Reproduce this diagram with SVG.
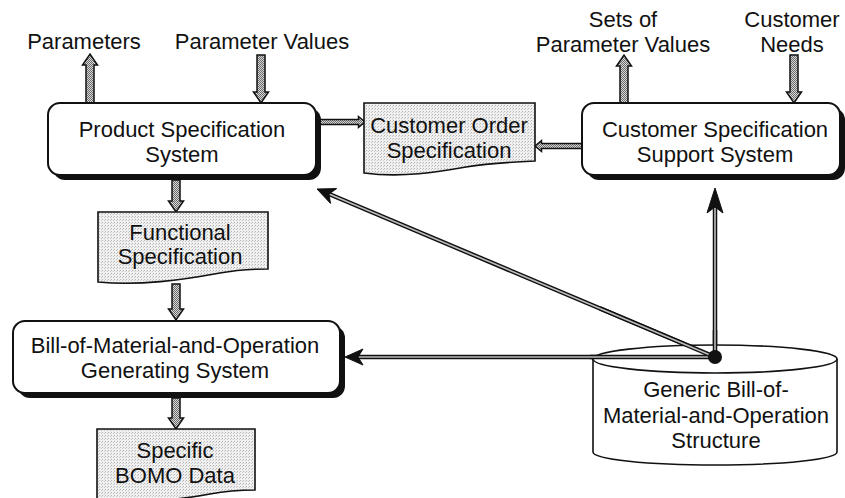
<svg xmlns="http://www.w3.org/2000/svg" width="845" height="498" viewBox="0 0 845 498">
  <defs>
    <!-- screen tone used inside the wide flow arrows -->
    <pattern id="tone" width="2" height="2" patternUnits="userSpaceOnUse">
      <rect width="2" height="2" fill="#d8d8d8"/>
      <rect width="1" height="1" fill="#6a6a6a"/>
      <rect x="1" y="1" width="1" height="1" fill="#6a6a6a"/>
    </pattern>
    <!-- light stipple for document shapes -->
    <pattern id="paper" width="3" height="3" patternUnits="userSpaceOnUse">
      <rect width="3" height="3" fill="#f0f0f0"/>
      <rect width="1" height="1" fill="#b4b4b4"/>
      <rect x="2" y="1" width="1" height="1" fill="#c8c8c8"/>
    </pattern>
  </defs>
  <style>
    text { font-family: "Liberation Sans", Arial, Helvetica, sans-serif; font-size: 22px; fill: #111; text-anchor: middle; }
    .box { fill: #fff; stroke: #111; stroke-width: 2; }
    .shadow { fill: #111; }
    .doc { fill: url(#paper); stroke: #111; stroke-width: 1.6; }
    .flow { fill: url(#tone); stroke: #111; stroke-width: 1.5; stroke-linejoin: miter; }
    .rail { fill: none; stroke: #111; stroke-width: 4.5; }
    .rail-in { fill: none; stroke: #bdbdbd; stroke-width: 1.6; }
    .head { fill: #111; stroke: #111; stroke-width: 1; stroke-linejoin: miter; }
    .db { fill: #fff; stroke: #111; stroke-width: 1.6; }
  </style>

  <!-- Connectors -->
  <g id="connectors">
    <!-- wide toned arrows -->
    <path class="flow" d="M86,103 V65 H82.5 L90,54 L97.5,65 H94 V103 Z"/>
    <path class="flow" d="M257,55 V92 H253.5 L261,103 L268.5,92 H265 V55 Z"/>
    <path class="flow" d="M620,103 V66 H616.5 L624,55 L631.5,66 H628 V103 Z"/>
    <path class="flow" d="M790,55 V92 H786.5 L794,103 L801.5,92 H798 V55 Z"/>
    <path class="flow" d="M172,180 V201 H168.5 L176,212 L183.5,201 H180 V180 Z"/>
    <path class="flow" d="M172,284 V309 H168.5 L176,320 L183.5,309 H180 V284 Z"/>
    <path class="flow" d="M172,398 V418 H168.5 L176,429 L183.5,418 H180 V398 Z"/>
    <!-- narrow toned arrows between the upper row -->
    <path class="flow" d="M320,119.5 H358.5 V116.5 L365,122 L358.5,127.5 V124.5 H320 Z"/>
    <path class="flow" d="M582,143.5 H541.5 V140.5 L535,146 L541.5,151.5 V148.5 H582 Z"/>

    <!-- rails leaving the generic structure -->
    <line class="rail" x1="715" y1="357" x2="715" y2="206"/>
    <line class="rail-in" x1="715" y1="352" x2="715" y2="206"/>
    <line class="rail" x1="715" y1="357" x2="358" y2="357"/>
    <line class="rail-in" x1="710" y1="357" x2="358" y2="357"/>
    <line class="rail" x1="715" y1="357" x2="329" y2="194"/>
    <line class="rail-in" x1="710" y1="355" x2="329" y2="194"/>
    <path class="head" d="M715,188 L723,213 L715,207 L707,213 Z"/>
    <path class="head" d="M345,357 L363,349 L358,357 L363,365 Z"/>
    <path class="head" d="M317,189 L330.5,203.4 L329,194.1 L336.7,188.6 Z"/>
  </g>

  <!-- Labels of external flows -->
  <g id="labels">
    <text x="84" y="49">Parameters</text>
    <text x="262" y="49">Parameter Values</text>
    <text x="623" y="27">Sets of</text>
    <text x="623" y="52">Parameter Values</text>
    <text x="792" y="27">Customer</text>
    <text x="792" y="52">Needs</text>
  </g>

  <g id="product-spec-system">
    <rect class="shadow" x="53" y="108" width="268" height="72" rx="12"/>
    <rect class="box" x="48" y="103" width="268" height="72" rx="12"/>
    <text x="182" y="137">Product Specification</text>
    <text x="182" y="162">System</text>
  </g>

  <g id="customer-order-spec">
    <path class="doc" d="M364,103 H535 V161 C512,162 490,163 466,167 C438,172 402,178 364,173 Z"/>
    <text x="449" y="133">Customer Order</text>
    <text x="449" y="158">Specification</text>
  </g>

  <g id="customer-spec-support">
    <rect class="shadow" x="587" y="108" width="258" height="72" rx="12"/>
    <rect class="box" x="582" y="103" width="258" height="72" rx="12"/>
    <text x="715" y="137">Customer Specification</text>
    <text x="715" y="162">Support System</text>
  </g>

  <g id="functional-spec">
    <path class="doc" d="M98,212 H268 V269 C250,269 236,270 220,273 C182,280 140,286 98,282 Z"/>
    <text x="180" y="240">Functional</text>
    <text x="180" y="264">Specification</text>
  </g>

  <g id="bomo-generating-system">
    <rect class="shadow" x="18" y="326" width="327" height="72" rx="12"/>
    <rect class="box" x="13" y="321" width="327" height="72" rx="12"/>
    <text x="175" y="353">Bill-of-Material-and-Operation</text>
    <text x="175" y="378">Generating System</text>
  </g>

  <g id="specific-bomo-data">
    <path class="doc" d="M97,429 H255 V490 C240,490 226,491 210,494 C178,500 132,504 97,501 Z"/>
    <text x="175" y="458">Specific</text>
    <text x="175" y="483">BOMO Data</text>
  </g>

  <g id="generic-bomo-structure">
    <path class="db" d="M593,359 V452 A122,13 0 0 0 837,452 V359"/>
    <ellipse class="db" cx="715" cy="359" rx="122" ry="14"/>
    <text x="716" y="397">Generic Bill-of-</text>
    <text x="716" y="423">Material-and-Operation</text>
    <text x="716" y="448">Structure</text>
  </g>

  <!-- redraw the rail crossing the cylinder lid and the junction dot -->
  <g id="junction">
    <line class="rail" x1="715" y1="357" x2="590" y2="357"/>
    <line class="rail-in" x1="710" y1="357" x2="590" y2="357"/>
    <line class="rail" x1="715" y1="357" x2="600" y2="308.4"/>
    <line class="rail-in" x1="710" y1="355" x2="600" y2="308.4"/>
    <line class="rail" x1="715" y1="357" x2="715" y2="330"/>
    <line class="rail-in" x1="715" y1="352" x2="715" y2="330"/>
    <circle cx="715" cy="357" r="7" fill="#111"/>
  </g>
</svg>
